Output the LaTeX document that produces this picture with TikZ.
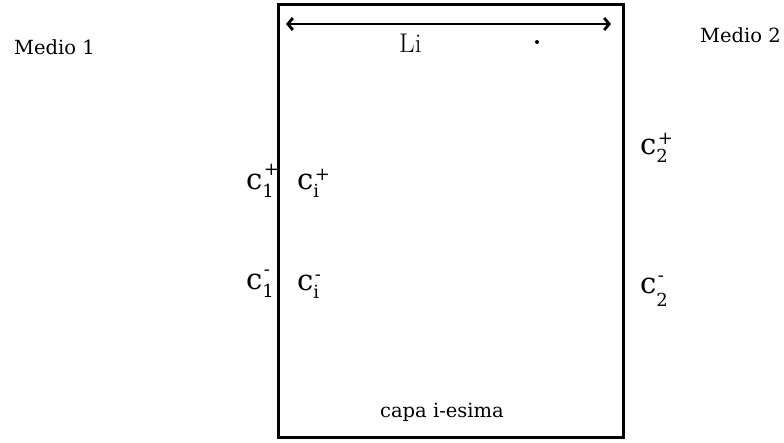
\documentclass[tikz,border=0pt]{standalone}
\usepackage{fontspec}
\setmainfont{DejaVu Serif}
\newfontfamily\lmfont{Latin Modern Roman}
\usetikzlibrary{arrows.meta}
\newcommand\clab[4]{c\rlap{\raisebox{-#3pt}{\fontsize{18}{18}\selectfont #1}}\kern1.5pt\raisebox{#4pt}{\fontsize{18}{18}\selectfont #2}}
\tikzset{
  lbl/.style={inner sep=0pt, anchor=base west, font=\fontsize{19.5}{19.5}\selectfont},
  clbl/.style={inner sep=0pt, anchor=base west, font=\fontsize{29}{29}\selectfont},
  border/.style={draw=black, line width=3pt},
  span/.style={line width=2.8pt, {Straight Barb[length=5pt,width=12pt]}-{Straight Barb[length=5pt,width=12pt]}}
}
\begin{document}
\begin{tikzpicture}[x=1pt,y=-1pt]
\useasboundingbox (0,0) rectangle (784,443);
\coordinate (tl) at (278,5);
\coordinate (br) at (623,437);
\draw[border] (tl) rectangle (br);
\coordinate (aL) at (286,24);
\coordinate (aR) at (611,24);
\draw[span] (aL) -- (aR);
\node[inner sep=0pt, anchor=base west, font=\lmfont\fontsize{27}{27}\selectfont] (li) at (399,53) {Li};
\fill (537,42) circle (2pt);
\node[lbl] (m1) at (14,55) {Medio 1};
\node[lbl] (m2) at (700,43) {Medio 2};
\node[lbl] (capa) at (380,417) {capa i-esima};
\node[clbl] (c1p) at (246,190) {\clab{1}{+}{8}{14}};
\node[clbl] (cip) at (297,190) {\clab{i}{+}{8}{9}};
\node[clbl] (c1m) at (246,290) {\clab{1}{-}{8}{14}};
\node[clbl] (cim) at (297,291) {\clab{i}{-}{8}{10}};
\node[clbl] (c2p) at (640,155) {\clab{2}{+}{8}{10}};
\node[clbl] (c2m) at (640,294) {\clab{2}{-}{13}{12}};
\end{tikzpicture}
\end{document}
